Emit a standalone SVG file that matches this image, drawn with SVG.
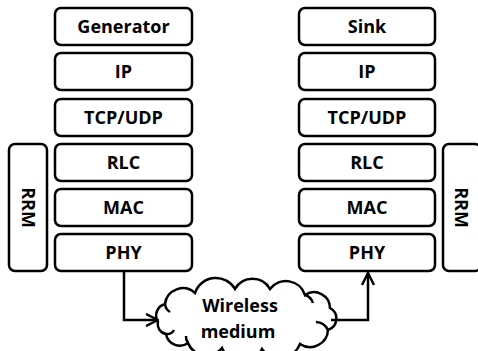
<svg xmlns="http://www.w3.org/2000/svg" width="478" height="351" viewBox="0 0 478 351">
<defs>
<style>
.box{fill:#fff;stroke:#000;stroke-width:2.5}
.lbl{font-family:"Open Sans","Liberation Sans",sans-serif;font-weight:700;font-size:18px;fill:#000;text-anchor:middle}
.con{fill:none;stroke:#000;stroke-width:2.5}
</style>
<marker id="arr" viewBox="0 0 14 14" refX="13" refY="7" markerWidth="14" markerHeight="14" markerUnits="userSpaceOnUse" orient="auto">
<path d="M1,1 L13,7 L1,13" fill="none" stroke="#000" stroke-width="2.4"/>
</marker>
</defs>
<rect width="478" height="351" fill="#fff"/>
<g id="gen"><rect class="box" x="55" y="8" width="137" height="37" rx="6"/><text class="lbl" x="123.5" y="32.5">Generator</text></g>
<g id="ip1"><rect class="box" x="55" y="53" width="137" height="37" rx="6"/><text class="lbl" x="123.5" y="77.5">IP</text></g>
<g id="tcp1"><rect class="box" x="55" y="99" width="137" height="37" rx="6"/><text class="lbl" x="123.5" y="123.5">TCP/UDP</text></g>
<g id="rlc1"><rect class="box" x="55" y="144" width="137" height="37" rx="6"/><text class="lbl" x="123.5" y="168.5">RLC</text></g>
<g id="mac1"><rect class="box" x="55" y="189" width="137" height="37" rx="6"/><text class="lbl" x="123.5" y="213.5">MAC</text></g>
<g id="phy1"><rect class="box" x="55" y="234" width="137" height="37" rx="6"/><text class="lbl" x="123.5" y="258.5">PHY</text></g>
<g id="rrm1"><rect class="box" x="9" y="144" width="38" height="127" rx="6"/><text class="lbl" transform="translate(28,207.5) rotate(90)" x="0" y="6">RRM</text></g>

<g id="sink"><rect class="box" x="299" y="8" width="136" height="37" rx="6"/><text class="lbl" x="367" y="32.5">Sink</text></g>
<g id="ip2"><rect class="box" x="299" y="53" width="136" height="37" rx="6"/><text class="lbl" x="367" y="77.5">IP</text></g>
<g id="tcp2"><rect class="box" x="299" y="99" width="136" height="37" rx="6"/><text class="lbl" x="367" y="123.5">TCP/UDP</text></g>
<g id="rlc2"><rect class="box" x="299" y="144" width="136" height="37" rx="6"/><text class="lbl" x="367" y="168.5">RLC</text></g>
<g id="mac2"><rect class="box" x="299" y="189" width="136" height="37" rx="6"/><text class="lbl" x="367" y="213.5">MAC</text></g>
<g id="phy2"><rect class="box" x="299" y="234" width="136" height="37" rx="6"/><text class="lbl" x="367" y="258.5">PHY</text></g>
<g id="rrm2"><rect class="box" x="443" y="144" width="38" height="127" rx="6"/><text class="lbl" transform="translate(461,207.5) rotate(90)" x="0" y="6">RRM</text></g>

<g id="cloud">
<path class="box" d="M158,322 A12,12 0 0 1 165,304 A18,18 0 0 1 195,293 A22,22 0 0 1 235,289 A20,20 0 0 1 270,289 A20,20 0 0 1 305,295 A16,16 0 0 1 330,308 A12,12 0 0 1 328,330 A18,18 0 0 1 300,344 A22,22 0 0 1 262,349 A22,22 0 0 1 222,348 A20,20 0 0 1 188,343 A14,14 0 0 1 166,334 A10,10 0 0 1 158,322 Z"/>
<path class="con" d="M165,304 A10,10 0 0 0 170,312 M305,295 A12,12 0 0 1 313,303 M328,330 A14,14 0 0 0 316,322 M188,343 A10,10 0 0 1 186,336 M166,334 A8,8 0 0 0 174,330"/>
<text class="lbl" x="240" y="312">Wireless</text>
<text class="lbl" x="238" y="338">medium</text>
</g>

<g id="connectors">
<path class="con" d="M124,271 V320 H158" marker-end="url(#arr)"/>
<path class="con" d="M331,320 H368 V273" marker-end="url(#arr)"/>
</g>
</svg>
